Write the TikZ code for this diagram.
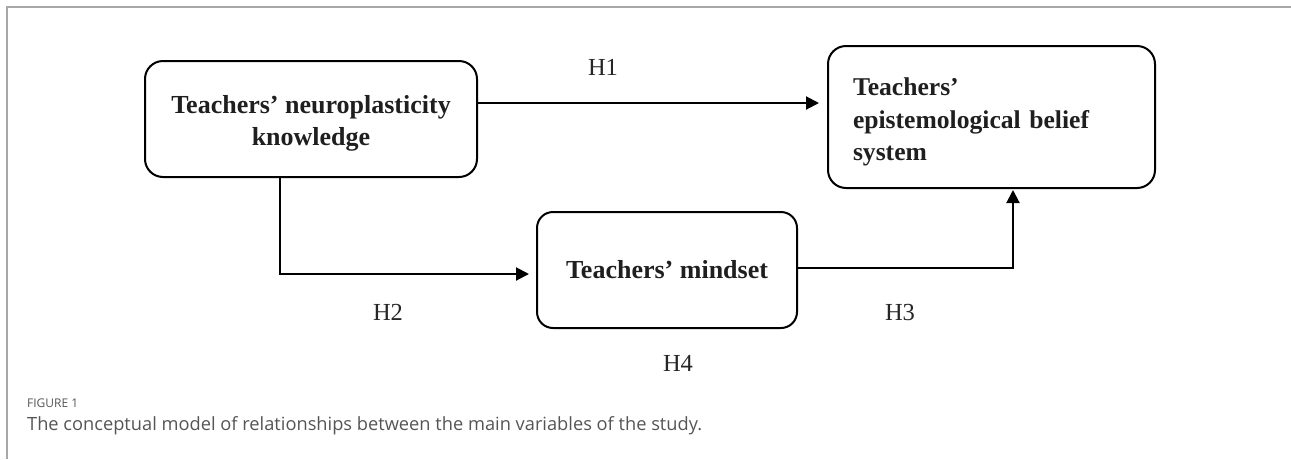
\documentclass[tikz,border=0pt]{standalone}
\usepackage{fontspec}
\setmainfont{Liberation Serif}
\newfontfamily\capfont{Open Sans}
\usetikzlibrary{arrows.meta}
\definecolor{framegray}{HTML}{A8A8A8}
\definecolor{capgray}{HTML}{555555}
\tikzset{
  varbox/.style={draw=black, line width=2pt, rounded corners=18pt, inner sep=0pt,
    font=\fontsize{26}{32}\selectfont\bfseries, text=black!88},
  conn/.style={draw=black, line width=2pt, -{Triangle[length=13pt,width=13pt]}},
  hyp/.style={font=\fontsize{24.5}{26}\selectfont, text=black!85, inner sep=0pt},
}
\begin{document}
\begin{tikzpicture}[x=1pt,y=-1pt]
\useasboundingbox (0,0) rectangle (1291,459);
\draw[framegray, line width=1.2pt] (7,459) -- (7,7) -- (1291,7);

\node[varbox, minimum width=332pt, minimum height=116pt, align=center] (A) at (311,119)
  {\rule{0pt}{26pt}Teachers' neuroplasticity\\knowledge};
\node[varbox, minimum width=327pt, minimum height=142pt, text width=277pt, align=left,
  font=\fontsize{25.6}{32.5}\selectfont\bfseries] (E) at (991.5,117)
  {\rule{0pt}{28pt}Teachers'\\epistemological belief\\system};
\node[varbox, minimum width=260pt, minimum height=116pt, rounded corners=16pt] (M) at (667,270)
  {Teachers' mindset};

\draw[conn, shorten >=8pt] ([yshift=16pt]A.east) -- ([yshift=16pt]A.east -| E.west);
\draw[conn, shorten >=7pt] ([xshift=-31pt]A.south) |- ([yshift=-4pt]M.west);
\draw[conn, shorten >=1pt] ([yshift=2pt]M.east) -| ([xshift=21.5pt]E.south);

\node[hyp] (h1) at (603,67) {H1};
\node[hyp] (h2) at (388,312) {H2};
\node[hyp] (h3) at (900,313) {H3};
\node[hyp] (h4) at (678,363) {H4};

\node[anchor=west, inner sep=0pt, text=capgray, font=\capfont\fontsize{12}{14}\selectfont] (fig) at (27,403) {FIGURE 1};
\node[anchor=west, inner sep=0pt, text=capgray, font=\capfont\fontsize{18.25}{20}\selectfont] (cap) at (27,426)
  {The conceptual model of relationships between the main variables of the study.};
\end{tikzpicture}
\end{document}
